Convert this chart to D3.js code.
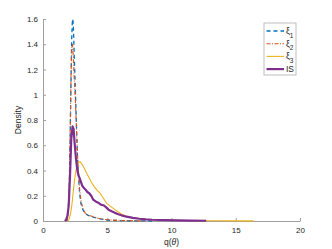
<!DOCTYPE html>
<html>
<head>
<meta charset="utf-8">
<script src="https://cdn.jsdelivr.net/npm/d3@7"></script>
<style>
  body { margin: 0; background: #fff; }
  svg { font-family: "Liberation Sans", Arial, sans-serif; }
</style>
</head>
<body>
<div id="chart"></div>
<script>
// density curves
const xiOneX = [1.85, 1.95, 2.05, 2.12, 2.18, 2.23, 2.28, 2.32, 2.36, 2.42, 2.5, 2.56, 2.62, 2.68, 2.76, 2.85, 2.95, 3.1, 3.27, 3.5, 3.9, 4.3, 4.7, 5.2, 6, 7, 8.5];
const xiOneY = [0, 0.05, 0.3, 0.7, 1.1, 1.43, 1.57, 1.6, 1.55, 1.35, 1.1, 0.9, 0.7, 0.52, 0.36, 0.22, 0.14, 0.09, 0.06, 0.045, 0.03, 0.02, 0.012, 0.006, 0.003, 0.001, 0];

const xiTwoX = [1.85, 1.95, 2.05, 2.12, 2.18, 2.24, 2.3, 2.36, 2.42, 2.5, 2.56, 2.62, 2.7, 2.78, 2.86, 2.96, 3.1, 3.27, 3.5, 3.9, 4.3, 4.7, 5.2, 6, 7, 8];
const xiTwoY = [0, 0.04, 0.3, 0.75, 1.15, 1.38, 1.4, 1.3, 1.15, 1.0, 0.85, 0.68, 0.5, 0.36, 0.24, 0.16, 0.1, 0.065, 0.048, 0.034, 0.022, 0.014, 0.008, 0.004, 0.002, 0];

const xiThreeX = [1.95, 2.05, 2.15, 2.25, 2.35, 2.45, 2.55, 2.65, 2.75, 2.88, 3.0, 3.2, 3.4, 3.6, 3.8, 4.0, 4.2, 4.44, 4.7, 4.95, 5.2, 5.47, 5.8, 6.1, 6.5, 7, 7.5, 8, 9, 10, 11, 12, 13, 14, 15, 16.4];
const xiThreeY = [0, 0.02, 0.06, 0.13, 0.23, 0.32, 0.39, 0.44, 0.465, 0.47, 0.455, 0.42, 0.378, 0.34, 0.3, 0.27, 0.245, 0.22, 0.18, 0.14, 0.12, 0.1, 0.075, 0.055, 0.038, 0.026, 0.018, 0.013, 0.008, 0.005, 0.004, 0.003, 0.002, 0.0015, 0.001, 0.001];

const isX = [1.7, 1.8, 1.9, 2.0, 2.1, 2.2, 2.3, 2.38, 2.46, 2.56, 2.66, 2.75, 2.85, 2.95, 3.05, 3.15, 3.3, 3.45, 3.6, 3.75, 3.9, 4.1, 4.3, 4.5, 4.7, 4.9, 5.1, 5.3, 5.5, 5.8, 6.1, 6.5, 7, 7.5, 8, 8.5, 9.5, 10.5, 11.5, 12.7];
const isY = [0, 0.01, 0.04, 0.12, 0.35, 0.65, 0.75, 0.73, 0.62, 0.5, 0.41, 0.365, 0.34, 0.31, 0.28, 0.265, 0.25, 0.23, 0.22, 0.2, 0.17, 0.155, 0.145, 0.13, 0.125, 0.11, 0.09, 0.08, 0.07, 0.055, 0.045, 0.034, 0.025, 0.018, 0.013, 0.01, 0.007, 0.005, 0.003, 0.002];

const xTicks = [0, 5, 10, 15, 20];
const yTicks = [0, 0.2, 0.4, 0.6, 0.8, 1, 1.2, 1.4, 1.6];

const series = [
    { name: "ξ", sub: "1", xs: xiOneX, ys: xiOneY, color: "#0072BD", width: 1.3, dash: "4,3" },
    { name: "ξ", sub: "2", xs: xiTwoX, ys: xiTwoY, color: "#D95319", width: 1.1, dash: "4,1.5,1,1.5" },
    { name: "ξ", sub: "3", xs: xiThreeX, ys: xiThreeY, color: "#EDB120", width: 1.1, dash: null },
    { name: "IS", sub: null, xs: isX, ys: isY, color: "#7E2F8E", width: 2.2, dash: null }
];

const W = 332, H = 249;
const margin = { top: 19, right: 32, bottom: 28, left: 43 };

const svg = d3.select("#chart").append("svg")
    .attr("width", W)
    .attr("height", H);

const x = d3.scaleLinear().domain([0, 20]).range([margin.left, W - margin.right]);
const y = d3.scaleLinear().domain([0, 1.6]).range([H - margin.bottom, margin.top]);

// axes (MATLAB style: ticks inside, box off)
const xAxis = svg.append("g")
    .attr("transform", `translate(0,${H - margin.bottom})`)
    .call(d3.axisBottom(x).tickValues(xTicks).tickSizeInner(-3).tickSizeOuter(0).tickPadding(6));

const yAxis = svg.append("g")
    .attr("transform", `translate(${margin.left},0)`)
    .call(d3.axisLeft(y).tickValues(yTicks).tickFormat(d3.format("")).tickSizeInner(-3).tickSizeOuter(0).tickPadding(5));

[xAxis, yAxis].forEach(a => {
    a.select(".domain").attr("stroke", "#a0a0a0");
    a.selectAll(".tick line").attr("stroke", "#a0a0a0");
    a.selectAll(".tick text").attr("fill", "#262626").style("font-size", "8px");
});

// curves
const line = d3.line()
    .x(d => x(d[0]))
    .y(d => y(d[1]));

svg.append("g").selectAll("path")
    .data(series)
    .enter().append("path")
    .attr("d", s => line(s.xs.map((v, i) => [v, s.ys[i]])))
    .attr("fill", "none")
    .attr("stroke", s => s.color)
    .attr("stroke-width", s => s.width)
    .attr("stroke-dasharray", s => s.dash)
    .attr("stroke-linejoin", "round");

// axis labels
svg.append("text")
    .attr("x", x(10))
    .attr("y", 245)
    .attr("text-anchor", "middle")
    .style("font-size", "8.5px")
    .attr("fill", "#262626")
    .html('q(<tspan font-style="italic">θ</tspan>)');

svg.append("text")
    .attr("transform", `translate(21,${(margin.top + H - margin.bottom) / 2}) rotate(-90)`)
    .attr("text-anchor", "middle")
    .style("font-size", "8.5px")
    .attr("fill", "#262626")
    .text("Density");

// legend
const legend = svg.append("g").attr("transform", "translate(264,23)");
legend.append("rect")
    .attr("width", 32)
    .attr("height", 52)
    .attr("fill", "#fff")
    .attr("stroke", "#b0b0b0")
    .attr("stroke-width", 0.8);

const entries = legend.selectAll(".entry")
    .data(series)
    .enter().append("g")
    .attr("class", "entry")
    .attr("transform", (d, i) => `translate(0,${8 + i * 12.7})`);

entries.append("line")
    .attr("x1", 2.5).attr("x2", 20)
    .attr("stroke", d => d.color)
    .attr("stroke-width", d => d.width)
    .attr("stroke-dasharray", d => d.dash);

entries.append("text")
    .attr("x", 22)
    .attr("dy", "0.33em")
    .style("font-size", "8.5px")
    .attr("fill", "#262626")
    .each(function(d) {
        const t = d3.select(this);
        t.append("tspan").text(d.name);
        if (d.sub) {
            t.append("tspan").attr("baseline-shift", "sub").style("font-size", "6.5px").text(d.sub);
        }
    });
</script>
</body>
</html>
